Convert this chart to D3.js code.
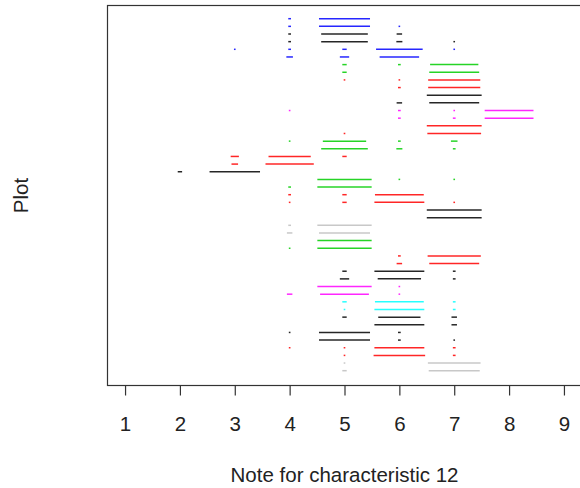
<!DOCTYPE html>
<html>
<head>
<meta charset="utf-8">
<script src="https://cdn.jsdelivr.net/npm/d3@7"></script>
<style>
  html, body { margin: 0; padding: 0; background: #fff; }
  svg { display: block; font-family: "Liberation Sans", Arial, sans-serif; }
</style>
</head>
<body>
<svg id="chart" width="580" height="488"></svg>
<script>
// ---- data ----
const notes = [1, 2, 3, 4, 5, 6, 7, 8, 9];          // x tick labels / note values
const xLabel = "Note for characteristic 12";
const yLabel = "Plot";
// colour of each plotted row (top to bottom)
const rowColors = [
  "blue","blue","black","black","blue","blue","green3","green3","red","red",
  "black","black","magenta","magenta","red","red","green3","green3","red","red",
  "black","green3","green3","red","red","black","black","gray","gray","green3",
  "green3","red","red","black","black","magenta","magenta","cyan","cyan","black",
  "black","black","black","red","red","gray","gray"
];
// proportion of observations at each note 1..9, one array per row
const proportions = [
  [0,0,0,.05,.93,0,0,0,0],
  [0,0,0,.05,.93,.03,0,0,0],
  [0,0,0,.05,.85,.10,0,0,0],
  [0,0,0,.05,.85,.11,.03,0,0],
  [0,0,.03,.05,.08,.85,.03,0,0],
  [0,0,0,.12,.17,.72,0,0,0],
  [0,0,0,0,.08,.05,.88,0,0],
  [0,0,0,0,.08,0,.91,0,0],
  [0,0,0,0,.03,.03,.95,0,0],
  [0,0,0,0,0,.05,.95,0,0],
  [0,0,0,0,0,0,1.0,0,0],
  [0,0,0,0,0,.10,.91,0,0],
  [0,0,0,.03,0,.05,.03,.89,0],
  [0,0,0,0,0,.05,.05,.89,0],
  [0,0,0,0,0,0,1.0,0,0],
  [0,0,0,0,.03,0,.98,0,0],
  [0,0,0,.03,.79,.05,.12,0,0],
  [0,0,0,0,.85,.11,.05,0,0],
  [0,0,.15,.77,.08,0,0,0,0],
  [0,0,.12,.88,0,0,0,0,0],
  [0,.08,.92,0,0,0,0,0,0],
  [0,0,0,0,.99,.03,.03,0,0],
  [0,0,0,.05,.99,0,0,0,0],
  [0,0,0,.05,.08,.89,0,0,0],
  [0,0,0,.03,.08,.91,.03,0,0],
  [0,0,0,0,0,0,1.0,0,0],
  [0,0,0,0,0,0,1.0,0,0],
  [0,0,0,.05,.99,0,0,0,0],
  [0,0,0,.10,.93,0,0,0,0],
  [0,0,0,0,.99,0,0,0,0],
  [0,0,0,.03,.99,0,0,0,0],
  [0,0,0,0,0,.05,.97,0,0],
  [0,0,0,0,0,.10,.91,0,0],
  [0,0,0,0,.08,.91,.05,0,0],
  [0,0,0,0,.17,.79,.05,0,0],
  [0,0,0,0,.99,.03,0,0,0],
  [0,0,0,.10,.89,.03,0,0,0],
  [0,0,0,0,.08,.89,.05,0,0],
  [0,0,0,0,.03,.91,.05,0,0],
  [0,0,0,0,.08,.77,.10,0,0],
  [0,0,0,0,0,.91,.10,0,0],
  [0,0,0,.03,.93,.05,0,0,0],
  [0,0,0,0,.93,.05,.03,0,0],
  [0,0,0,.03,.03,.91,.05,0,0],
  [0,0,0,0,.03,.94,.05,0,0],
  [0,0,0,0,.03,0,.96,0,0],
  [0,0,0,0,.08,0,.93,0,0]
];

// R default palette colours
const palette = {
  black: "#000000", red: "#FF0000", green3: "#00CD00", blue: "#0000FF",
  cyan: "#00FFFF", magenta: "#FF00FF", gray: "#BEBEBE"
};

// ---- layout ----
const box = { left: 107.5, top: 5.5, right: 581.5, bottom: 385.5 };
const svg = d3.select("#chart");

const x = d3.scaleLinear().domain([0.68, 9.32]).range([box.left, box.right]);
const y = d3.scaleLinear().domain([1, proportions.length]).range([18.7, 370.7]);

// segments
const segs = [];
proportions.forEach((row, i) => {
  row.forEach((p, j) => {
    if (p > 0) segs.push({ row: i + 1, note: notes[j], p, color: palette[rowColors[i]] });
  });
});

svg.append("g").selectAll("line").data(segs).join("line")
  .attr("x1", d => x(d.note - d.p / 2))
  .attr("x2", d => x(d.note + d.p / 2))
  .attr("y1", d => y(d.row))
  .attr("y2", d => y(d.row))
  .attr("stroke", d => d.color)
  .attr("stroke-width", 1.5)
  .attr("stroke-opacity", 0.85);

// box
svg.append("rect")
  .attr("x", box.left).attr("y", box.top)
  .attr("width", box.right - box.left).attr("height", box.bottom - box.top)
  .attr("fill", "none").attr("stroke", "#333").attr("stroke-width", 1.2);

// x axis
const xAxis = d3.axisBottom(x).tickValues(notes).tickSize(10).tickPadding(21.4)
  .tickFormat(d3.format("d"));
const gx = svg.append("g").attr("transform", `translate(0,${box.bottom})`).call(xAxis);
gx.select(".domain").remove();
gx.selectAll(".tick line").attr("stroke", "#333").attr("stroke-width", 1.2);
gx.selectAll(".tick text").attr("font-size", 20.5).attr("fill", "#222")
  .attr("font-family", "Liberation Sans, Arial, sans-serif");

// axis labels
svg.append("text")
  .attr("x", (x(1) + x(9)) / 2).attr("y", 481.5)
  .attr("text-anchor", "middle").attr("font-size", 20.5).attr("fill", "#222")
  .text(xLabel);

svg.append("text")
  .attr("transform", `translate(27.5,${(box.top + box.bottom) / 2}) rotate(-90)`)
  .attr("text-anchor", "middle").attr("font-size", 20.5).attr("fill", "#222")
  .text(yLabel);
</script>
</body>
</html>
